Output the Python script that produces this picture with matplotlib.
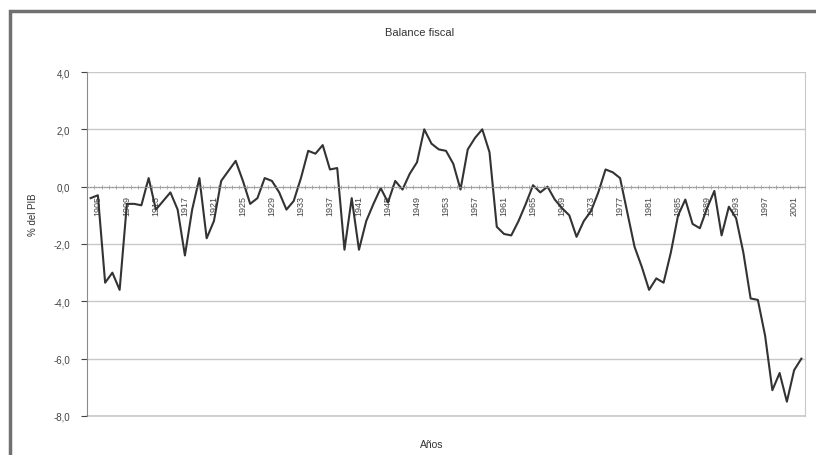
import numpy as np
import matplotlib
matplotlib.use("Agg")
import matplotlib.pyplot as plt
from matplotlib.patches import Rectangle
from matplotlib.ticker import FixedLocator, FuncFormatter

# Balance fiscal, % del PIB, 1904-2002
years = list(range(1904, 2003))
balance = [
    -0.4, -0.3, -3.35, -3.0, -3.6, -0.6, -0.6, -0.65, 0.3, -0.8,
    -0.5, -0.2, -0.8, -2.4, -0.8, 0.3, -1.8, -1.2, 0.2, 0.55,
    0.9, 0.2, -0.6, -0.4, 0.3, 0.2, -0.2, -0.8, -0.5, 0.3,
    1.25, 1.15, 1.45, 0.6, 0.65, -2.2, -0.4, -2.2, -1.2, -0.6,
    -0.05, -0.55, 0.2, -0.1, 0.45, 0.85, 2.0, 1.5, 1.3, 1.25,
    0.8, -0.1, 1.3, 1.7, 2.0, 1.2, -1.4, -1.65, -1.7, -1.2,
    -0.6, 0.05, -0.2, 0.0, -0.45, -0.75, -1.0, -1.75, -1.2, -0.85,
    -0.2, 0.6, 0.5, 0.3, -0.9, -2.1, -2.8, -3.6, -3.2, -3.35,
    -2.3, -1.0, -0.45, -1.3, -1.45, -0.75, -0.15, -1.7, -0.7, -1.1,
    -2.3, -3.9, -3.95, -5.2, -7.1, -6.5, -7.5, -6.4, -6.0,
]
label_years = list(range(1905, 2002, 4))
y_ticks = [4, 2, 0, -2, -4, -6, -8]

plt.rcParams['font.family'] = ['Liberation Sans Narrow', 'Liberation Sans', 'DejaVu Sans']

fig = plt.figure(figsize=(8.16, 4.56), dpi=100)
fig.patch.set_facecolor('white')

# marco exterior del gráfico
fig.patches.append(Rectangle((10 / 816, -0.05), 1.1, 1 - 12 / 456 + 0.05,
                             transform=fig.transFigure, fill=False,
                             edgecolor='#707070', linewidth=2.5))

ax = fig.add_axes([87 / 816, 1 - 417 / 456, (805 - 87) / 816, (417 - 73) / 456])

x = np.arange(len(years))
ax.plot(x, balance, color='#333333', linewidth=1.5)

ax.set_xlim(-0.5, len(years) - 0.5)
ax.set_ylim(-8, 4)

# eje y
ax.set_yticks(y_ticks)
ax.yaxis.set_major_formatter(FuncFormatter(lambda v, p: f"{v:.1f}".replace('.', ',')))
ax.tick_params(axis='y', labelsize=7, colors='#444444', length=4, width=0.8, pad=8)
ax.grid(axis='y', color='#c8c8c8', linewidth=1.0)
ax.axhline(-8, color='#c8c8c8', linewidth=1.2, clip_on=False, zorder=0)
ax.set_axisbelow(True)

# eje x cruzando en 0
ax.spines['bottom'].set_position(('data', 0))
ax.spines['bottom'].set_color('#9a9a9a')
ax.spines['bottom'].set_linestyle((0, (1, 1.5)))
ax.spines['bottom'].set_linewidth(0.8)
ax.spines['top'].set_visible(False)
ax.spines['right'].set_color('#c8c8c8')
ax.spines['left'].set_color('#8a8a8a')

ax.xaxis.set_major_locator(FixedLocator([years.index(yy) for yy in label_years]))
ax.set_xticklabels([str(yy) for yy in label_years], rotation=90)
ax.xaxis.set_minor_locator(FixedLocator(np.arange(-0.5, len(years), 1)))
ax.tick_params(axis='x', which='major', length=0, labelsize=6.5, colors='#444444', pad=6)
ax.tick_params(axis='x', which='minor', length=3, width=0.6, color='#9a9a9a', direction='inout')

fig.text(420 / 816, 1 - 33 / 456, 'Balance fiscal', ha='center', va='center',
         fontsize=8, color='#333333')
fig.text(432 / 816, 1 - 445 / 456, 'Años', ha='center', va='center',
         fontsize=7.5, color='#333333')
fig.text(33 / 816, 1 - 215 / 456, '% del PIB', ha='center', va='center',
         rotation=90, fontsize=7, color='#333333')

fig.savefig('out.png', dpi=100, facecolor='white')
